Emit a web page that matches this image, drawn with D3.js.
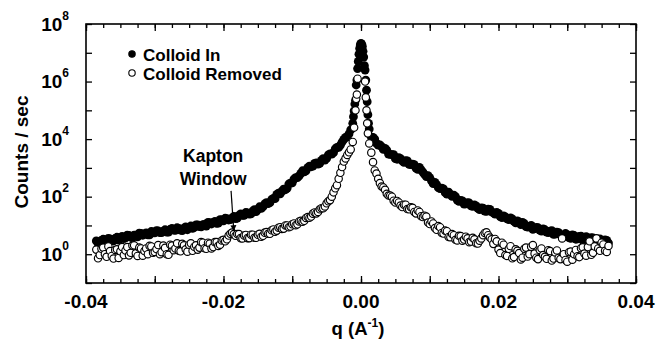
<!DOCTYPE html>
<html>
<head>
<meta charset="utf-8">
<script src="https://cdn.jsdelivr.net/npm/d3@7"></script>
<style>
  body { margin: 0; background: #fff; }
  svg text { font-family: "Liberation Sans", Arial, Helvetica, sans-serif; font-weight: bold; fill: #000; }
</style>
</head>
<body>
<div id="chart"></div>
<script>
// values: [q (1/A), log10(counts/sec)]
var colloidIn = [
	// left wing
	[-0.0385,0.46],[-0.0380,0.39],[-0.0375,0.52],[-0.0370,0.46],[-0.0365,0.53],[-0.0360,0.46],[-0.0355,0.59],[-0.0350,0.56],[-0.0345,0.54],[-0.0340,0.66],
	[-0.0335,0.59],[-0.0330,0.66],[-0.0325,0.60],[-0.0320,0.72],[-0.0315,0.71],[-0.0310,0.67],[-0.0305,0.79],[-0.0300,0.74],[-0.0295,0.81],[-0.0290,0.75],
	[-0.0285,0.85],[-0.0280,0.77],[-0.0275,0.90],[-0.0270,0.83],[-0.0265,0.90],[-0.0260,0.82],[-0.0255,0.95],[-0.0250,0.92],[-0.0245,0.90],[-0.0240,1.02],
	[-0.0235,0.96],[-0.0230,1.03],[-0.0225,0.98],[-0.0220,1.10],[-0.0215,1.10],[-0.0210,1.07],[-0.0205,1.20],[-0.0200,1.16],[-0.0195,1.24],[-0.0190,1.20],
	[-0.0185,1.31],[-0.0180,1.25],[-0.0175,1.40],[-0.0170,1.35],[-0.0165,1.44],[-0.0160,1.40],[-0.0155,1.55],[-0.0150,1.56],[-0.0145,1.59],[-0.0140,1.75],
	[-0.0135,1.76],[-0.0130,1.90],[-0.0125,1.93],[-0.0120,2.12],[-0.0115,2.19],[-0.0110,2.24],[-0.0105,2.44],[-0.0100,2.48],[-0.0095,2.66],[-0.0090,2.72],
	[-0.0085,2.90],[-0.0080,2.90],[-0.0075,3.06],[-0.0070,3.06],[-0.0065,3.17],[-0.0060,3.16],[-0.0055,3.32],[-0.0050,3.33],[-0.0045,3.49],[-0.0040,3.53],
	[-0.0035,3.71],[-0.0030,3.79],[-0.0025,3.99],[-0.0020,4.08],[-0.0015,4.32],
	[-0.03825,0.38],[-0.03775,0.48],[-0.03725,0.46],[-0.03675,0.55],[-0.03625,0.47],[-0.03575,0.55],[-0.03525,0.49],[-0.03475,0.62],[-0.03425,0.57],[-0.03375,0.65],
	[-0.03325,0.58],[-0.03275,0.66],[-0.03225,0.73],[-0.03175,0.66],[-0.03125,0.74],[-0.03075,0.67],[-0.03025,0.77],[-0.02975,0.82],[-0.02925,0.75],[-0.02875,0.80],
	[-0.02825,0.77],[-0.02775,0.86],[-0.02725,0.84],[-0.02675,0.92],[-0.02625,0.84],[-0.02575,0.91],[-0.02525,0.85],[-0.02475,0.98],[-0.02425,0.93],[-0.02375,1.02],
	[-0.02325,0.95],[-0.02275,1.04],[-0.02225,1.11],[-0.02175,1.05],[-0.02125,1.14],[-0.02075,1.08],[-0.02025,1.19],[-0.01975,1.25],[-0.01925,1.19],[-0.01875,1.26],
	[-0.01825,1.24],[-0.01775,1.35],[-0.01725,1.35],[-0.01675,1.45],[-0.01625,1.39],[-0.01575,1.50],[-0.01525,1.48],[-0.01475,1.65],[-0.01425,1.65],[-0.01375,1.79],
	[-0.01325,1.79],[-0.01275,1.94],[-0.01225,2.08],[-0.01175,2.10],[-0.01125,2.26],[-0.01075,2.29],[-0.01025,2.47],[-0.00975,2.61],[-0.00925,2.66],[-0.00875,2.81],
	[-0.00825,2.86],[-0.00775,3.01],[-0.00725,3.04],[-0.00675,3.16],[-0.00625,3.13],[-0.00575,3.26],[-0.00525,3.27],[-0.00475,3.45],[-0.00425,3.48],[-0.00375,3.66],
	[-0.00325,3.71],[-0.00275,3.90],[-0.00225,4.06],[-0.00175,4.18],
	// direct beam
	[-0.0012,4.55],[-0.0011,4.78],[-0.0010,4.98],[-0.0009,5.22],[-0.0008,5.35],[-0.0007,5.88],[-0.0006,6.05],[-0.0005,6.45],[-0.0004,6.70],[-0.0003,6.95],
	[-0.0002,7.15],[-0.0001,7.28],[0.0000,7.33],[0.0001,7.30],[0.0002,7.22],[0.0003,7.05],[0.0004,6.85],[0.0005,6.55],[0.0006,6.40],[0.0007,6.05],
	[0.0008,5.70],[0.0009,5.30],[0.0010,4.85],[0.0011,4.55],[0.0012,4.35],
	// right wing
	[0.0015,4.07],[0.0020,4.00],[0.0025,3.79],[0.0030,3.74],[0.0035,3.68],[0.0040,3.48],[0.0045,3.46],[0.0050,3.32],[0.0055,3.36],[0.0060,3.24],
	[0.0065,3.25],[0.0070,3.12],[0.0075,3.13],[0.0080,2.99],[0.0085,3.02],[0.0090,2.85],[0.0095,2.70],[0.0100,2.66],[0.0105,2.45],[0.0110,2.42],
	[0.0115,2.28],[0.0120,2.27],[0.0125,2.09],[0.0130,2.08],[0.0135,2.05],[0.0140,1.88],[0.0145,1.87],[0.0150,1.74],[0.0155,1.79],[0.0160,1.68],
	[0.0165,1.71],[0.0170,1.59],[0.0175,1.61],[0.0180,1.50],[0.0185,1.57],[0.0190,1.47],[0.0195,1.39],[0.0200,1.42],[0.0205,1.27],[0.0210,1.30],
	[0.0215,1.20],[0.0220,1.23],[0.0225,1.09],[0.0230,1.12],[0.0235,1.11],[0.0240,0.96],[0.0245,0.97],[0.0250,0.86],[0.0255,0.93],[0.0260,0.84],
	[0.0265,0.88],[0.0270,0.77],[0.0275,0.80],[0.0280,0.69],[0.0285,0.77],[0.0290,0.68],[0.0295,0.62],[0.0300,0.68],[0.0305,0.55],[0.0310,0.65],
	[0.0315,0.53],[0.0320,0.63],[0.0325,0.48],[0.0330,0.56],[0.0335,0.58],[0.0340,0.43],[0.0345,0.52],[0.0350,0.39],[0.0355,0.50],[0.0360,0.39],
	[0.00175,4.06],[0.00225,3.85],[0.00275,3.80],[0.00325,3.64],[0.00375,3.62],[0.00425,3.47],[0.00475,3.46],[0.00525,3.30],[0.00575,3.32],[0.00625,3.19],
	[0.00675,3.24],[0.00725,3.11],[0.00775,3.11],[0.00825,2.95],[0.00875,2.93],[0.00925,2.77],[0.00975,2.73],[0.01025,2.55],[0.01075,2.50],[0.01125,2.31],
	[0.01175,2.30],[0.01225,2.14],[0.01275,2.16],[0.01325,2.01],[0.01375,2.00],[0.01425,1.84],[0.01475,1.85],[0.01525,1.75],[0.01575,1.78],[0.01625,1.66],
	[0.01675,1.68],[0.01725,1.55],[0.01775,1.60],[0.01825,1.49],[0.01875,1.56],[0.01925,1.44],[0.01975,1.45],[0.02025,1.31],[0.02075,1.33],[0.02125,1.23],
	[0.02175,1.26],[0.02225,1.14],[0.02275,1.16],[0.02325,1.03],[0.02375,1.06],[0.02425,0.94],[0.02475,1.00],[0.02525,0.89],[0.02575,0.92],[0.02625,0.80],
	[0.02675,0.85],[0.02725,0.75],[0.02775,0.82],[0.02825,0.70],[0.02875,0.75],[0.02925,0.62],[0.02975,0.72],[0.03025,0.58],[0.03075,0.67],[0.03125,0.52],
	[0.03175,0.62],[0.03225,0.49],[0.03275,0.61],[0.03325,0.46],[0.03375,0.57],[0.03425,0.42],[0.03475,0.53],[0.03525,0.40],[0.03575,0.48]
];

var colloidRemoved = [
	// left wing
	[-0.0385,0.16],[-0.0380,-0.03],[-0.0375,0.23],[-0.0370,-0.09],[-0.0365,0.11],[-0.0360,-0.15],[-0.0355,0.17],[-0.0350,0.10],[-0.0345,-0.03],[-0.0340,0.25],
	[-0.0335,0.05],[-0.0330,0.31],[-0.0325,-0.06],[-0.0320,0.20],[-0.0315,0.11],[-0.0310,0.00],[-0.0305,0.27],[-0.0300,0.08],[-0.0295,0.32],[-0.0290,0.07],
	[-0.0285,0.22],[-0.0280,-0.02],[-0.0275,0.30],[-0.0270,0.20],[-0.0265,0.12],[-0.0260,0.36],[-0.0255,0.17],[-0.0250,0.33],[-0.0245,0.12],[-0.0240,0.31],
	[-0.0235,0.23],[-0.0230,0.40],[-0.0225,0.19],[-0.0220,0.37],[-0.0215,0.25],[-0.0210,0.42],[-0.0205,0.33],[-0.0200,0.50],[-0.0195,0.52],[-0.0190,0.71],
	[-0.0185,0.70],[-0.0180,0.70],[-0.0175,0.56],[-0.0170,0.65],[-0.0165,0.56],[-0.0160,0.68],[-0.0155,0.57],[-0.0150,0.68],[-0.0145,0.61],[-0.0140,0.75],
	[-0.0135,0.71],[-0.0130,0.83],[-0.0125,0.78],[-0.0120,0.92],[-0.0115,0.88],[-0.0110,1.00],[-0.0105,0.94],[-0.0100,1.04],[-0.0095,1.01],[-0.0090,1.14],
	[-0.0085,1.13],[-0.0080,1.26],[-0.0075,1.27],[-0.0070,1.41],[-0.0065,1.42],[-0.0060,1.56],[-0.0055,1.60],[-0.0050,1.77],[-0.0045,1.88],[-0.0040,2.15],
	[-0.0035,2.40],[-0.0030,2.83],[-0.0025,3.22],[-0.0020,3.45],[-0.0015,3.64],
	[-0.03825,-0.14],[-0.03775,0.19],[-0.03725,0.00],[-0.03675,0.27],[-0.03625,-0.06],[-0.03575,0.15],[-0.03525,-0.13],[-0.03475,0.25],[-0.03425,0.13],[-0.03375,-0.04],
	[-0.03325,0.30],[-0.03275,0.03],[-0.03225,0.23],[-0.03175,-0.05],[-0.03125,0.20],[-0.03075,0.29],[-0.03025,0.05],[-0.02975,0.18],[-0.02925,0.00],[-0.02875,0.30],
	[-0.02825,0.00],[-0.02775,0.33],[-0.02725,0.14],[-0.02675,0.38],[-0.02625,0.10],[-0.02575,0.31],[-0.02525,0.09],[-0.02475,0.38],[-0.02425,0.26],[-0.02375,0.16],
	[-0.02325,0.42],[-0.02275,0.21],[-0.02225,0.40],[-0.02175,0.20],[-0.02125,0.42],[-0.02075,0.29],[-0.02025,0.48],[-0.01975,0.45],[-0.01925,0.65],[-0.01875,0.75],
	[-0.01825,0.64],[-0.01775,0.70],[-0.01725,0.55],[-0.01675,0.67],[-0.01625,0.56],[-0.01575,0.68],[-0.01525,0.57],[-0.01475,0.71],[-0.01425,0.64],[-0.01375,0.77],
	[-0.01325,0.71],[-0.01275,0.86],[-0.01225,0.82],[-0.01175,0.94],[-0.01125,0.89],[-0.01075,1.00],[-0.01025,0.96],[-0.00975,1.07],[-0.00925,1.04],[-0.00875,1.16],
	[-0.00825,1.16],[-0.00775,1.29],[-0.00725,1.31],[-0.00675,1.45],[-0.00625,1.47],[-0.00575,1.60],[-0.00525,1.66],[-0.00475,1.84],[-0.00425,2.00],[-0.00375,2.29],
	[-0.00325,2.62],[-0.00275,3.03],[-0.00225,3.33],[-0.00175,3.54],
	// direct beam
	[-0.0012,3.90],[-0.0010,4.40],[-0.0008,5.00],[-0.0007,5.40],[-0.0006,5.55],[-0.0005,6.10],
	[0.0006,6.00],[0.0007,5.45],[0.0008,5.00],[0.0009,4.55],[0.0010,4.20],[0.0012,3.85],
	// right wing
	[0.0015,3.53],[0.0020,2.91],[0.0025,2.62],[0.0030,2.35],[0.0035,2.24],[0.0040,2.04],[0.0045,2.00],[0.0050,1.80],[0.0055,1.80],[0.0060,1.64],
	[0.0065,1.72],[0.0070,1.56],[0.0075,1.61],[0.0080,1.42],[0.0085,1.47],[0.0090,1.29],[0.0095,1.31],[0.0100,1.05],[0.0105,1.07],[0.0110,0.85],
	[0.0115,0.94],[0.0120,0.72],[0.0125,0.80],[0.0130,0.59],[0.0135,0.66],[0.0140,0.48],[0.0145,0.63],[0.0150,0.51],[0.0155,0.55],[0.0160,0.44],
	[0.0165,0.52],[0.0170,0.37],[0.0175,0.55],[0.0180,0.74],[0.0185,0.66],[0.0190,0.52],[0.0195,0.53],[0.0200,0.16],[0.0205,0.40],[0.0210,-0.03],
	[0.0215,0.19],[0.0220,-0.14],[0.0225,0.17],[0.0230,0.04],[0.0235,-0.12],[0.0240,0.23],[0.0245,0.00],[0.0250,0.32],[0.0255,-0.12],[0.0260,0.15],
	[0.0265,-0.03],[0.0270,-0.16],[0.0275,0.11],[0.0280,-0.15],[0.0285,0.13],[0.0290,-0.17],[0.0295,0.00],[0.0300,-0.26],[0.0305,0.09],[0.0310,0.00],
	[0.0315,-0.07],[0.0320,0.21],[0.0325,0.02],[0.0330,0.25],[0.0335,-0.02],[0.0340,0.27],[0.0345,0.20],[0.0350,0.40],[0.0355,0.12],[0.0360,0.29],
	[0.00175,3.20],[0.00225,2.80],[0.00275,2.47],[0.00325,2.32],[0.00375,2.10],[0.00425,2.04],[0.00475,1.86],[0.00525,1.85],[0.00575,1.69],[0.00625,1.72],
	[0.00675,1.57],[0.00725,1.63],[0.00775,1.47],[0.00825,1.52],[0.00875,1.32],[0.00925,1.34],[0.00975,1.10],[0.01025,1.14],[0.01075,0.91],[0.01125,0.98],
	[0.01175,0.74],[0.01225,0.82],[0.01275,0.60],[0.01325,0.70],[0.01375,0.50],[0.01425,0.64],[0.01475,0.47],[0.01525,0.61],[0.01575,0.42],[0.01625,0.57],
	[0.01675,0.38],[0.01725,0.47],[0.01775,0.66],[0.01825,0.76],[0.01875,0.58],[0.01925,0.36],[0.01975,0.45],[0.02025,0.04],[0.02075,0.33],[0.02125,-0.06],
	[0.02175,0.28],[0.02225,-0.10],[0.02275,0.12],[0.02325,-0.18],[0.02375,0.19],[0.02425,-0.08],[0.02475,0.26],[0.02525,0.02],[0.02575,-0.17],[0.02625,0.20],
	[0.02675,-0.09],[0.02725,0.14],[0.02775,-0.22],[0.02825,0.06],[0.02875,-0.13],[0.02925,0.55],[0.02975,-0.20],[0.03025,0.07],[0.03075,-0.19],[0.03125,0.15],
	[0.03175,-0.10],[0.03225,0.24],[0.03275,-0.05],[0.03325,0.45],[0.03375,0.05],[0.03425,0.55],[0.03475,0.12],[0.03525,0.34],[0.03575,0.08]
];

var seriesNames = ['Colloid In', 'Colloid Removed'];
var xLabelValues = [-0.04, -0.02, 0, 0.02, 0.04];
var xTickLabels = ['-0.04', '-0.02', '0.00', '0.02', '0.04'];
var yLabelExponents = [0, 2, 4, 6, 8];
var kapton = {text: ['Kapton', 'Window'], q: -0.0215, from: [-0.0189, 2.2], to: [-0.0185, 0.8]};

var width = 663, height = 341;
var margin = {top: 24, right: 27, bottom: 58, left: 86};

var byQ = function (a, b) { return a[0] - b[0]; };
colloidIn.sort(byQ);
colloidRemoved.sort(byQ);

var svg = d3.select('#chart')
	.append('svg')
	.attr('width', width)
	.attr('height', height);

var x = d3.scaleLinear()
	.domain([-0.04, 0.04])
	.range([margin.left, width - margin.right]);

var y = d3.scaleLog()
	.domain([0.1, 1e8])
	.range([height - margin.bottom, margin.top]);

var pow = function (v) { return Math.pow(10, v); };

// ticks on all four sides, pointing in
var xMajor = d3.range(-4, 5).map(function (d) { return d / 100; });
var xMinor = d3.range(-16, 17).map(function (d) { return d * 0.0025; });
var yDecades = d3.range(-1, 9).map(pow);

function tickAxis(axis, scale, vals, size, tx, ty) {
	var g = svg.append('g')
		.attr('transform', 'translate(' + tx + ',' + ty + ')')
		.call(axis(scale).tickValues(vals).tickSize(size).tickFormat(''));
	g.select('.domain').remove();
	g.selectAll('line').attr('stroke', '#000').attr('stroke-width', 1.3);
}
tickAxis(d3.axisBottom, x, xMajor, -7, 0, height - margin.bottom);
tickAxis(d3.axisBottom, x, xMinor, -4, 0, height - margin.bottom);
tickAxis(d3.axisTop, x, xMajor, -7, 0, margin.top);
tickAxis(d3.axisTop, x, xMinor, -4, 0, margin.top);
tickAxis(d3.axisLeft, y, yDecades, -6, margin.left, 0);
tickAxis(d3.axisRight, y, yDecades, -6, width - margin.right, 0);

svg.append('rect')
	.attr('x', margin.left)
	.attr('y', margin.top)
	.attr('width', width - margin.left - margin.right)
	.attr('height', height - margin.top - margin.bottom)
	.attr('fill', 'none')
	.attr('stroke', '#000')
	.attr('stroke-width', 1.6);

// x tick labels
svg.selectAll('.xlab')
	.data(xLabelValues)
	.enter()
	.append('text')
	.attr('class', 'xlab')
	.attr('x', function (d) { return x(d); })
	.attr('y', 308)
	.attr('text-anchor', 'middle')
	.style('font-size', '19px')
	.text(function (d, i) { return xTickLabels[i]; });

// y tick labels 10^n
var ylab = svg.selectAll('.ylab')
	.data(yLabelExponents)
	.enter()
	.append('text')
	.attr('class', 'ylab')
	.attr('x', 69)
	.attr('y', function (d) { return y(pow(d)) + 6.5; })
	.attr('text-anchor', 'end')
	.style('font-size', '19px');
ylab.append('tspan').text('10');
ylab.append('tspan')
	.attr('dy', -11)
	.style('font-size', '12px')
	.text(function (d) { return d; });

// axis titles
var xt = svg.append('text')
	.attr('x', 358)
	.attr('y', 335)
	.attr('text-anchor', 'middle')
	.style('font-size', '18.5px');
xt.append('tspan').text('q (A');
xt.append('tspan').attr('dy', -8).style('font-size', '12px').text('-1');
xt.append('tspan').attr('dy', 8).text(')');

svg.append('text')
	.attr('transform', 'translate(28,152) rotate(-90)')
	.attr('text-anchor', 'middle')
	.style('font-size', '19px')
	.text('Counts / sec');

// data
var plot = svg.append('g');

plot.selectAll('.in')
	.data(colloidIn)
	.enter()
	.append('circle')
	.attr('class', 'in')
	.attr('cx', function (d) { return x(d[0]); })
	.attr('cy', function (d) { return y(pow(d[1])); })
	.attr('r', 4.4)
	.attr('fill', '#000');

plot.selectAll('.out')
	.data(colloidRemoved)
	.enter()
	.append('circle')
	.attr('class', 'out')
	.attr('cx', function (d) { return x(d[0]); })
	.attr('cy', function (d) { return y(pow(d[1])); })
	.attr('r', 3.7)
	.attr('fill', '#fff')
	.attr('stroke', '#000')
	.attr('stroke-width', 1.15);

// legend
var legend = svg.append('g');
seriesNames.forEach(function (name, i) {
	var ly = 54 + i * 19;
	legend.append('circle')
		.attr('cx', 132)
		.attr('cy', ly)
		.attr('r', 3.2)
		.attr('fill', i == 0 ? '#000' : '#fff')
		.attr('stroke', '#000')
		.attr('stroke-width', 1.1);
	legend.append('text')
		.attr('x', 143)
		.attr('y', ly + 6.5)
		.style('font-size', '17px')
		.text(name);
});

// Kapton window note
svg.append('defs').append('marker')
	.attr('id', 'head')
	.attr('viewBox', '0 0 10 10')
	.attr('refX', 10)
	.attr('refY', 5)
	.attr('markerWidth', 5)
	.attr('markerHeight', 6)
	.attr('orient', 'auto')
	.append('path')
	.attr('d', 'M0,0L10,5L0,10z')
	.attr('fill', '#000');

kapton.text.forEach(function (t, i) {
	svg.append('text')
		.attr('x', x(kapton.q))
		.attr('y', y(pow(3.2 - i * 0.8)))
		.attr('text-anchor', 'middle')
		.style('font-size', '17.5px')
		.text(t);
});

svg.append('line')
	.attr('x1', x(kapton.from[0]))
	.attr('y1', y(pow(kapton.from[1])))
	.attr('x2', x(kapton.to[0]))
	.attr('y2', y(pow(kapton.to[1])))
	.attr('stroke', '#000')
	.attr('stroke-width', 1.2)
	.attr('marker-end', 'url(#head)');
</script>
</body>
</html>
